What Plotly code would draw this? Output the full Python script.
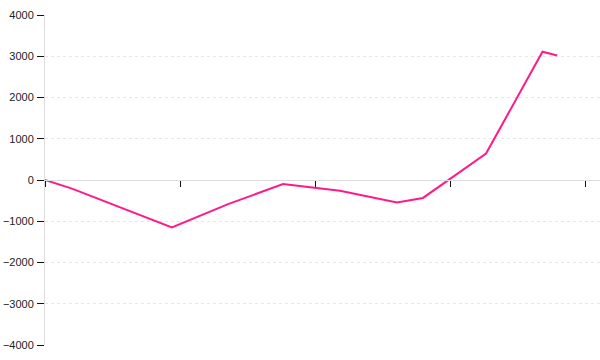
import plotly.graph_objects as go

# data
x_vals = [0.0, 0.20, 0.94, 1.356, 1.763, 2.185, 2.607, 2.80, 3.267, 3.685, 3.794]
y_vals = [0, -210, -1150, -585, -100, -260, -545, -435, 640, 3110, 3020]
y_ticks = [-4000, -3000, -2000, -1000, 0, 1000, 2000, 3000, 4000]
x_ticks = [0, 1, 2, 3, 4]

fig = go.Figure()
fig.add_trace(go.Scatter(
    x=x_vals, y=y_vals, mode="lines",
    line=dict(color="#ff1a8c", width=2),
    showlegend=False, hoverinfo="skip",
))

fig.update_layout(
    width=600, height=360,
    margin=dict(l=45, r=0, t=15, b=15),
    paper_bgcolor="white", plot_bgcolor="white",
    font=dict(family="Liberation Sans, Arial, sans-serif", size=11, color="#222"),
    xaxis=dict(
        range=[0, 555 / 135], tickvals=x_ticks, showticklabels=False,
        ticks="outside", ticklen=6, tickcolor="#111", tickwidth=1,
        showgrid=False, zeroline=False,
        showline=True, linecolor="#dddddd", linewidth=1,
        anchor="free", position=0.5,
    ),
    yaxis=dict(
        range=[-4000, 4000], tickvals=y_ticks,
        ticks="outside", ticklen=7, tickcolor="#111", tickwidth=1,
        showgrid=True, gridcolor="#e6e6e6", griddash="dot", gridwidth=1,
        zeroline=False, showline=True, linecolor="#dddddd", linewidth=1,
        ticklabelstandoff=1,
    ),
)

fig.write_html("out.html")
